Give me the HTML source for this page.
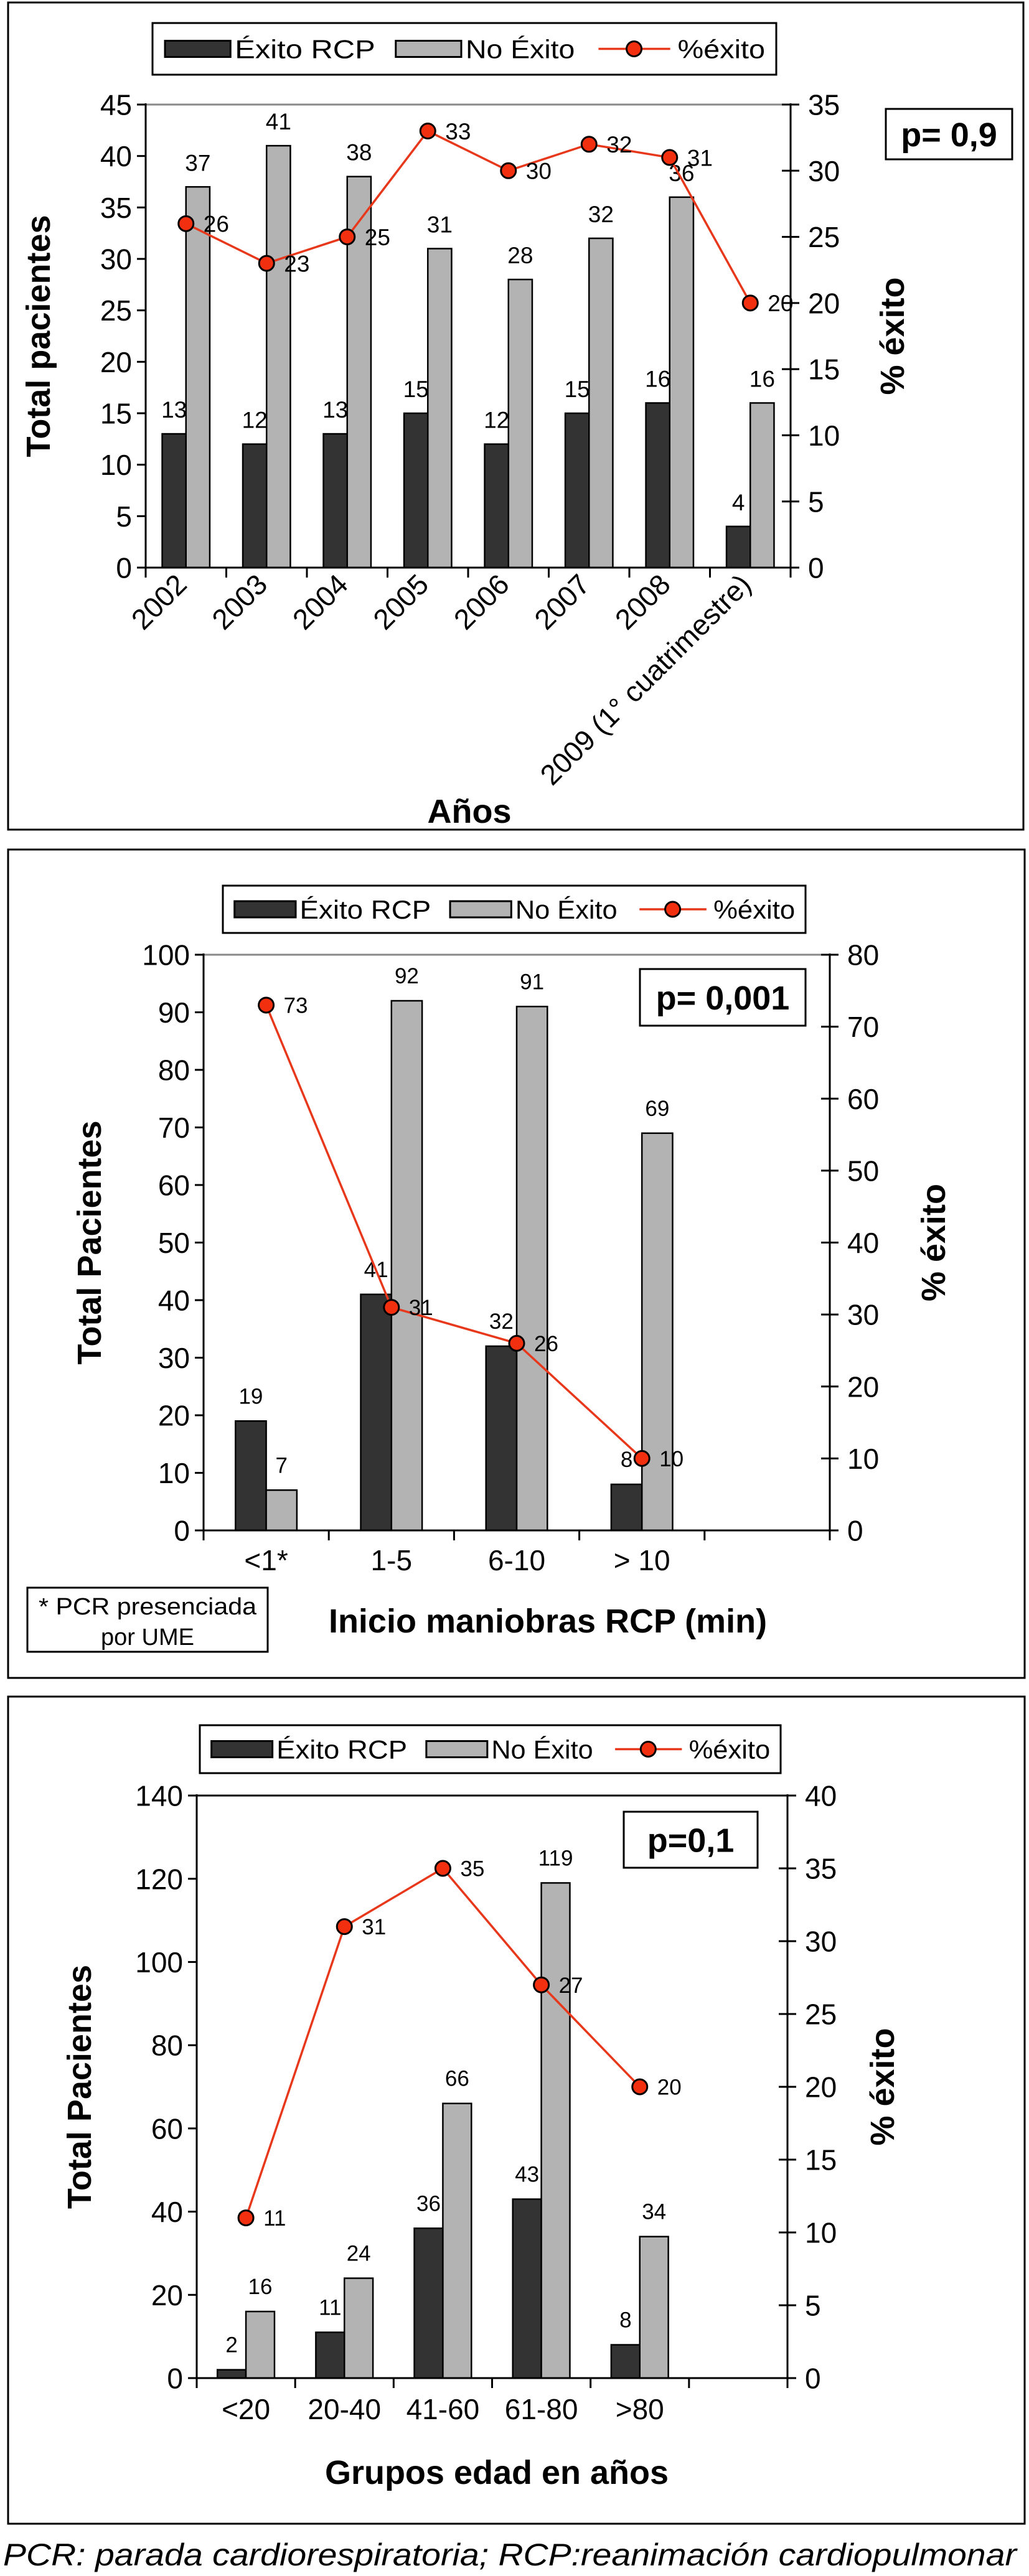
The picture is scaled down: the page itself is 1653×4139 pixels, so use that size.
<!DOCTYPE html>
<html><head><meta charset="utf-8">
<style>
html,body{margin:0;padding:0;background:#fff;}
svg{display:block;}
text{font-family:"Liberation Sans",sans-serif;fill:#000;}
.b{font-family:"Liberation Sans",sans-serif;font-weight:bold;}
</style></head>
<body>
<svg id="svg" width="1653" height="4139" viewBox="0 0 1653 4139" xmlns="http://www.w3.org/2000/svg"></svg>
<script>
// ---- Chart 1 data ----
const c1Categories = ["2002","2003","2004","2005","2006","2007","2008","2009 (1° cuatrimestre)"];
const c1Exito = [13,12,13,15,12,15,16,4];
const c1NoExito = [37,41,38,31,28,32,36,16];
const c1Pct = [26,23,25,33,30,32,31,20];
const c1LeftTicks = [0,5,10,15,20,25,30,35,40,45];
const c1RightTicks = [0,5,10,15,20,25,30,35];
// ---- Chart 2 data ----
const c2Categories = ["<1*","1-5","6-10","> 10",""];
const c2Exito = [19,41,32,8];
const c2NoExito = [7,92,91,69];
const c2Pct = [73,31,26,10];
const c2LeftTicks = [0,10,20,30,40,50,60,70,80,90,100];
const c2RightTicks = [0,10,20,30,40,50,60,70,80];
// ---- Chart 3 data ----
const c3Categories = ["<20","20-40","41-60","61-80",">80",""];
const c3Exito = [2,11,36,43,8];
const c3NoExito = [16,24,66,119,34];
const c3Pct = [11,31,35,27,20];
const c3LeftTicks = [0,20,40,60,80,100,120,140];
const c3RightTicks = [0,5,10,15,20,25,30,35,40];

const NS="http://www.w3.org/2000/svg";
const svg=document.getElementById('svg');
function mk(tag,attrs,parent,txt){
  const e=document.createElementNS(NS,tag);
  for(const k in attrs)e.setAttribute(k,attrs[k]);
  if(txt!==undefined)e.textContent=txt;
  (parent||svg).appendChild(e);return e;
}

function chart(o){
  const g=mk('g',{});
  
  
  const fr=mk('rect',{x:o.box[0],y:o.box[1],width:o.box[2]-o.box[0],height:o.box[3]-o.box[1],fill:'none',stroke:'#000','stroke-width':3},g);
  
  
  const L=o.plot[0],R=o.plot[1],T=o.plot[2],B=o.plot[3];
  const lMax=o.lt[o.lt.length-1], rMax=o.rt[o.rt.length-1];
  const yL=v=>B-(v/lMax)*(B-T);
  const yR=v=>B-(v/rMax)*(B-T);
  const n=o.cats.length, cw=(R-L)/n;
  const xC=i=>L+cw*(i+0.5);
  mk('line',{x1:L,y1:T,x2:R,y2:T,stroke:o.topColor,'stroke-width':3},g);
  const bw=cw*o.bw;
  o.ex.forEach((v,i)=>{
    const r=mk('rect',{x:xC(i)-bw,y:yL(v),width:bw,height:B-yL(v),fill:'#333',stroke:'#000','stroke-width':2.5},g);
    
    
    const t=mk('text',{x:xC(i)-bw/2,y:yL(v)-o.lblGap,'text-anchor':'middle','font-size':o.lf},g,String(v));
    
    
  });
  o.no.forEach((v,i)=>{
    const r=mk('rect',{x:xC(i),y:yL(v),width:bw,height:B-yL(v),fill:'#b3b3b3',stroke:'#000','stroke-width':2.5},g);
    
    
    const t=mk('text',{x:xC(i)+bw/2,y:yL(v)-o.lblGap,'text-anchor':'middle','font-size':o.lf},g,String(v));
    
    
  });
  mk('line',{x1:L,y1:T-2,x2:L,y2:B,stroke:'#000','stroke-width':3},g);
  mk('line',{x1:R,y1:T-2,x2:R,y2:B,stroke:'#000','stroke-width':3},g);
  mk('line',{x1:L-14,y1:B,x2:R+14,y2:B,stroke:'#000','stroke-width':3},g);
  o.lt.forEach(v=>{
    mk('line',{x1:L-14,y1:yL(v),x2:L,y2:yL(v),stroke:'#000','stroke-width':3},g);
    const t=mk('text',{x:L-22,y:yL(v)+o.tf*0.36,'text-anchor':'end','font-size':o.tf},g,String(v));
    
    
  });
  o.rt.forEach(v=>{
    mk('line',{x1:R-14,y1:yR(v),x2:R+14,y2:yR(v),stroke:'#000','stroke-width':3},g);
    const t=mk('text',{x:R+28,y:yR(v)+o.tf*0.36,'text-anchor':'start','font-size':o.tf},g,String(v));
    
    
  });
  for(let i=0;i<=n;i++) mk('line',{x1:L+cw*i,y1:B,x2:L+cw*i,y2:B+16,stroke:'#000','stroke-width':3},g);
  o.cats.forEach((c,i)=>{
    if(!c)return;
    let t;
    if(o.rot){
      const x=xC(i)+4,y=B+30;
      t=mk('text',{x:x,y:y,'text-anchor':'end','font-size':o.tf,transform:`rotate(-45 ${x} ${y})`},g,c);
    } else {
      t=mk('text',{x:xC(i),y:B+o.xlOff,'text-anchor':'middle','font-size':o.tf},g,c);
    }
    
    
  });
  const pts=o.pct.map((v,i)=>xC(i)+','+yR(v)).join(' ');
  const pl=mk('polyline',{points:pts,fill:'none',stroke:'#e8381c','stroke-width':3.5},g);
  
  
  o.pct.forEach((v,i)=>{
    const c=mk('circle',{cx:xC(i),cy:yR(v),r:12,fill:'#f2300f',stroke:'#000','stroke-width':3},g);
    
    
    const t=mk('text',{x:xC(i)+28,y:yR(v)+o.lf*0.36,'font-size':o.lf},g,String(v));
    
    
  });
  const yt=mk('text',{x:o.ytx,y:(T+B)/2,'text-anchor':'middle','font-size':o.atf,class:'b',transform:`rotate(-90 ${o.ytx} ${(T+B)/2})`},g,o.ytitle);
  
  
  const yt2=mk('text',{x:o.y2tx,y:(T+B)/2,'text-anchor':'middle','font-size':o.atf,class:'b',transform:`rotate(-90 ${o.y2tx} ${(T+B)/2})`},g,'% éxito');
  
  
  const xt=mk('text',{x:o.xt[0],y:o.xt[1],'text-anchor':'middle','font-size':o.atf,class:'b'},g,o.xtitle);
  
  
  const pb=mk('rect',{x:o.pbox[0],y:o.pbox[1],width:o.pbox[2]-o.pbox[0],height:o.pbox[3]-o.pbox[1],fill:'#fff',stroke:'#000','stroke-width':3},g);
  
  
  const pt=mk('text',{x:(o.pbox[0]+o.pbox[2])/2,y:(o.pbox[1]+o.pbox[3])/2+o.atf*0.36,'text-anchor':'middle','font-size':o.atf,class:'b'},g,o.ptext);
  
  
  const lg=o.leg, lx=lg[0], ly=lg[1], lw=lg[2]-lg[0], lh=lg[3]-lg[1];
  const lb=mk('rect',{x:lx,y:ly,width:lw,height:lh,fill:'#fff',stroke:'#000','stroke-width':3},g);
  
  
  const cy=ly+lh/2, s=lw/1000;
  mk('rect',{x:lx+20*s,y:cy-13,width:105*s,height:26,fill:'#333',stroke:'#000','stroke-width':3},g);
  let t=mk('text',{x:lx+132*s,y:cy+o.legf*0.36,'font-size':o.legf,textLength:225*s,lengthAdjust:'spacingAndGlyphs'},g,'Éxito RCP');
  
  mk('rect',{x:lx+390*s,y:cy-13,width:105*s,height:26,fill:'#b3b3b3',stroke:'#000','stroke-width':3},g);
  t=mk('text',{x:lx+502*s,y:cy+o.legf*0.36,'font-size':o.legf,textLength:175*s,lengthAdjust:'spacingAndGlyphs'},g,'No Éxito');
  
  mk('line',{x1:lx+715*s,y1:cy,x2:lx+830*s,y2:cy,stroke:'#e8381c','stroke-width':3.5},g);
  mk('circle',{cx:lx+772*s,cy:cy,r:12,fill:'#f2300f',stroke:'#000','stroke-width':3},g);
  t=mk('text',{x:lx+842*s,y:cy+o.legf*0.36,'font-size':o.legf,textLength:140*s,lengthAdjust:'spacingAndGlyphs'},g,'%éxito');
  
  return g;
}

chart({name:'chart-anos',box:[13,4,1644,1333],plot:[234,1270,168,912],cats:c1Categories,ex:c1Exito,no:c1NoExito,pct:c1Pct,lt:c1LeftTicks,rt:c1RightTicks,
  bw:0.295,topColor:'#888',tf:46,lf:37,lblGap:26,rot:true,atf:54,ytitle:'Total pacientes',ytx:80,y2tx:1452,xtitle:'Años',xt:[754,1322],
  pbox:[1423,175,1626,256],ptext:'p= 0,9',leg:[245,37,1247,120],legf:42,xlOff:0});
chart({name:'chart-inicio-maniobras',box:[13,1365,1646,2696],plot:[327,1333,1534,2459],cats:c2Categories,ex:c2Exito,no:c2NoExito,pct:c2Pct,lt:c2LeftTicks,rt:c2RightTicks,
  bw:0.245,topColor:'#888',tf:46,lf:35,lblGap:28,rot:false,xlOff:64,atf:54,ytitle:'Total Pacientes',ytx:162,y2tx:1518,xtitle:'Inicio maniobras RCP (min)',xt:[880,2623],
  pbox:[1028,1557,1294,1648],ptext:'p= 0,001',leg:[358,1423,1294,1499],legf:42});
chart({name:'chart-grupos-edad',box:[13,2726,1646,4055],plot:[316,1265,2885,3821],cats:c3Categories,ex:c3Exito,no:c3NoExito,pct:c3Pct,lt:c3LeftTicks,rt:c3RightTicks,
  bw:0.29,topColor:'#000',tf:46,lf:35,lblGap:28,rot:false,xlOff:66,atf:54,ytitle:'Total  Pacientes',ytx:146,y2tx:1436,xtitle:'Grupos edad en años',xt:[798,3991],
  pbox:[1002,2911,1217,3001],ptext:'p=0,1',leg:[321,2772,1254,2849],legf:42});

const nb=mk('rect',{x:44,y:2551,width:386,height:103,fill:'#fff',stroke:'#000','stroke-width':3});


const n1=mk('text',{x:237,y:2594,'text-anchor':'middle','font-size':38,textLength:350,lengthAdjust:'spacingAndGlyphs'},svg,'* PCR presenciada');


const n2=mk('text',{x:237,y:2643,'text-anchor':'middle','font-size':38},svg,'por UME');


const cap=mk('text',{x:5,y:4122,'font-size':50,'font-style':'italic',textLength:1628,lengthAdjust:'spacingAndGlyphs'},svg,'PCR: parada cardiorespiratoria; RCP:reanimación cardiopulmonar');


</script>
</body></html>
